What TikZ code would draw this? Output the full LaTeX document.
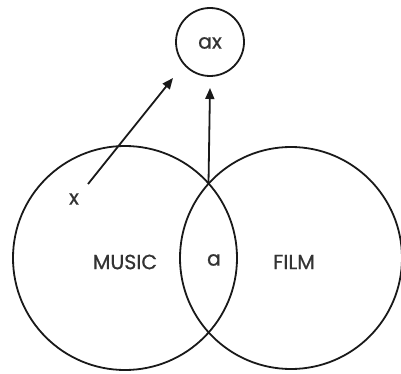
\documentclass[tikz,border=0pt]{standalone}
\usepackage{fontspec}
\setmainfont{Poppins}[FakeBold=0.8]
\usetikzlibrary{arrows.meta}
\begin{document}
\begin{tikzpicture}[x=1pt,y=-1pt,
  ring/.style={draw=black!90,line width=1.8pt,circle},
  lbl/.style={font=\fontsize{20.5}{20.5}\selectfont,text=black!80},
  conn/.style={draw=black!90,line width=1.8pt,-{Triangle[length=11pt,width=9pt]}}]
\useasboundingbox (0,0) rectangle (401,374);
\node[ring,minimum size=224pt,inner sep=0pt] (music) at (125,258) {};
\node[ring,minimum size=222pt,inner sep=0pt] (film) at (291,258) {};
\node[ring,minimum size=68pt,inner sep=0pt] (ax) at (210,42) {};
\node[lbl] (axl) at (210,43) {ax};
\node[lbl] (musicl) at (125,262) {MUSIC};
\node[lbl] (filml) at (294,262) {FILM};
\node[lbl] (al) at (214,260) {a};
\node[lbl] (xl) at (74,199) {x};
\coordinate (top) at (208.5,183.5);
\coordinate (xs) at (88,184);
\coordinate (xe) at (173,78);
\coordinate (te) at (210,88);
\draw[conn] (xs) -- (xe);
\draw[conn] (top) -- (te);
\end{tikzpicture}
\end{document}
